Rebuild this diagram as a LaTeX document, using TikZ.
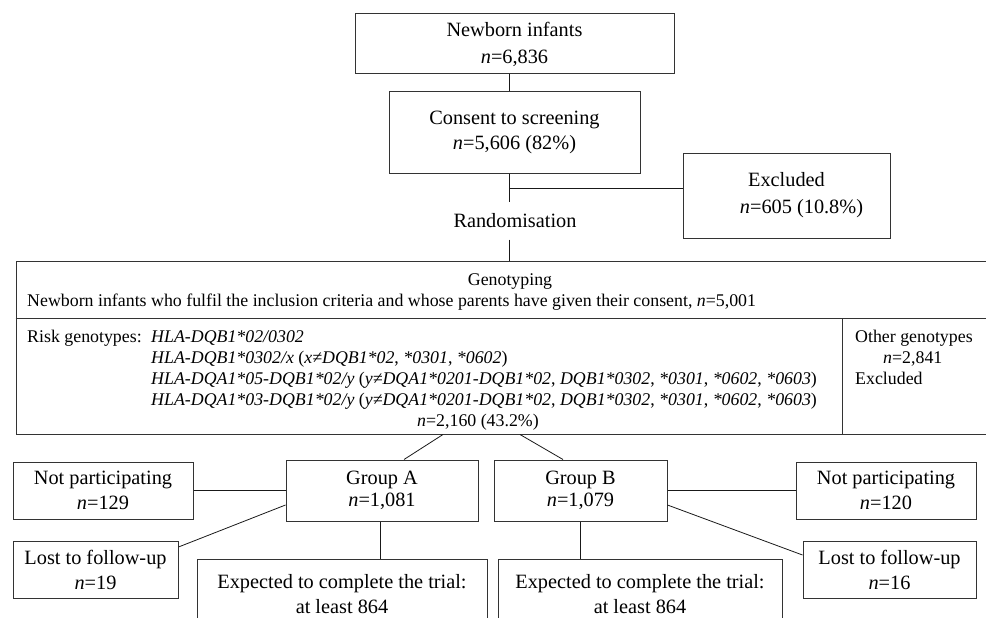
\documentclass[tikz,border=0pt]{standalone}
\usepackage{fontspec}
\setmainfont{Liberation Serif}
\usetikzlibrary{calc}
\newcommand\mybig{\fontsize{20.3pt}{25pt}\selectfont}
\newcommand\mybigA{\fontsize{20.3pt}{27pt}\selectfont}
\newcommand\mybigG{\fontsize{20.3pt}{22pt}\selectfont}
\newcommand\mysmall{\fontsize{17.85pt}{21pt}\selectfont}
\begin{document}
\begin{tikzpicture}[x=1pt,y=-1pt,
  box/.style={draw=black!80, line width=1pt, inner sep=0pt, align=center, font=\mybig},
  ln/.style={draw=black!90, line width=0.8pt},
  txt/.style={inner sep=0pt, font=\mysmall}]
\useasboundingbox (0,0) rectangle (986,618);
\clip (0,0) rectangle (986,618);

% top part
\node[box, font=\mybigA, minimum width=319, minimum height=60] (newborn) at (514.5,44) {Newborn infants\\\textit{n}=6,836};
\node[box, minimum width=251, minimum height=81] (consent) at (514.5,132.5) {Consent to screening\\\textit{n}=5,606 (82\%)};
\node[box, font=\mybigA, minimum width=207, minimum height=85] (excl) at (786.5,195.5) {Excluded\\\hspace*{30pt}\textit{n}=605 (10.8\%)};
\node[inner sep=0pt, minimum height=37, font=\mybig] (rnd) at (515,221) {Randomisation};
\coordinate (spine) at (509,188);

% genotyping box
\node[draw=black!80, line width=1pt, inner sep=0pt, minimum width=974, minimum height=173] (geno) at (503,347.5) {};
\coordinate (dv) at (0,318);
\coordinate (vd) at (842,318);
\draw[draw=black!80, line width=1pt] (geno.west |- dv) -- (geno.east |- dv);
\draw[draw=black!80, line width=1pt] (vd) -- (vd |- geno.south);

\node[txt, anchor=base] (gtitle) at (510,285) {Genotyping};
\node[txt, anchor=base west] (gincl) at (27,306) {Newborn infants who fulfil the inclusion criteria and whose parents have given their consent, \textit{n}=5,001};
\node[txt, anchor=base west] (risklbl) at (27,342) {Risk genotypes:};
\node[txt, anchor=base west] (r1) at (151,342) {\textit{HLA-DQB1*02/0302}};
\node[txt, anchor=base west] (r2) at (151,363) {\textit{HLA-DQB1*0302/x} (\textit{x≠DQB1*02}, \textit{*0301}, \textit{*0602})};
\node[txt, anchor=base west] (r3) at (151,384) {\textit{HLA-DQA1*05-DQB1*02/y} (\textit{y≠DQA1*0201-DQB1*02}, \textit{DQB1*0302}, \textit{*0301}, \textit{*0602}, \textit{*0603})};
\node[txt, anchor=base west] (r4) at (151,405) {\textit{HLA-DQA1*03-DQB1*02/y} (\textit{y≠DQA1*0201-DQB1*02}, \textit{DQB1*0302}, \textit{*0301}, \textit{*0602}, \textit{*0603})};
\node[txt, anchor=base] (rn) at (478,426) {\textit{n}=2,160 (43.2\%)};
\node[txt, anchor=base west] (o1) at (855,342) {Other genotypes};
\node[txt, anchor=base west] (o2) at (883,363) {\textit{n}=2,841};
\node[txt, anchor=base west] (o3) at (855,384) {Excluded};

% groups
\node[box, font=\mybigG, minimum width=192, minimum height=61] (ga) at (382,490.5) {Group A\\\textit{n}=1,081};
\node[box, minimum width=180, minimum height=57] (npa) at (103,490.5) {Not participating\\\textit{n}=129};
\node[box, minimum width=165, minimum height=57] (lfa) at (95.5,569.5) {Lost to follow-up\\\textit{n}=19};
\node[box, font=\mybigG, minimum width=173, minimum height=61] (gb) at (580.5,490.5) {Group B\\\textit{n}=1,079};
\node[box, minimum width=180, minimum height=57] (npb) at (886,490.5) {Not participating\\\textit{n}=120};
\node[box, minimum width=173, minimum height=57] (lfb) at (889.5,569.5) {Lost to follow-up\\\textit{n}=16};
\node[box, font=\mybig, anchor=north, minimum width=290, inner ysep=15pt] (expa) at (342,559) {Expected to complete the trial:\\at least 864};
\node[box, font=\mybig, anchor=north, minimum width=284, inner ysep=15pt] (expb) at (640,559) {Expected to complete the trial:\\at least 864};

% connectors
\draw[ln] (newborn.south -| spine) -- (consent.north -| spine);
\draw[ln] (consent.south -| spine) -- (rnd.north -| spine);
\draw[ln] (spine) -- (excl.west |- spine);
\draw[ln] (rnd.south -| spine) -- (geno.north -| spine);
\draw[ln] ([xshift=-60pt]geno.south) -- ([xshift=22pt]ga.north);
\draw[ln] ([xshift=17pt]geno.south) -- ([xshift=-17.5pt]gb.north);
\draw[ln] (ga.west) -- (npa.east |- ga.west);
\draw[ln] ([yshift=-14.5pt]ga.west) -- ([yshift=22.5pt]lfa.east);
\draw[ln] ([xshift=-2pt]ga.south) -- ([xshift=-2pt]ga.south |- expa.north);
\draw[ln] (gb.east) -- (npb.west |- gb.east);
\draw[ln] ([yshift=-14.5pt]gb.east) -- ([yshift=14.5pt]lfb.west);
\draw[ln] (gb.south) -- (gb.south |- expb.north);
\end{tikzpicture}
\end{document}
